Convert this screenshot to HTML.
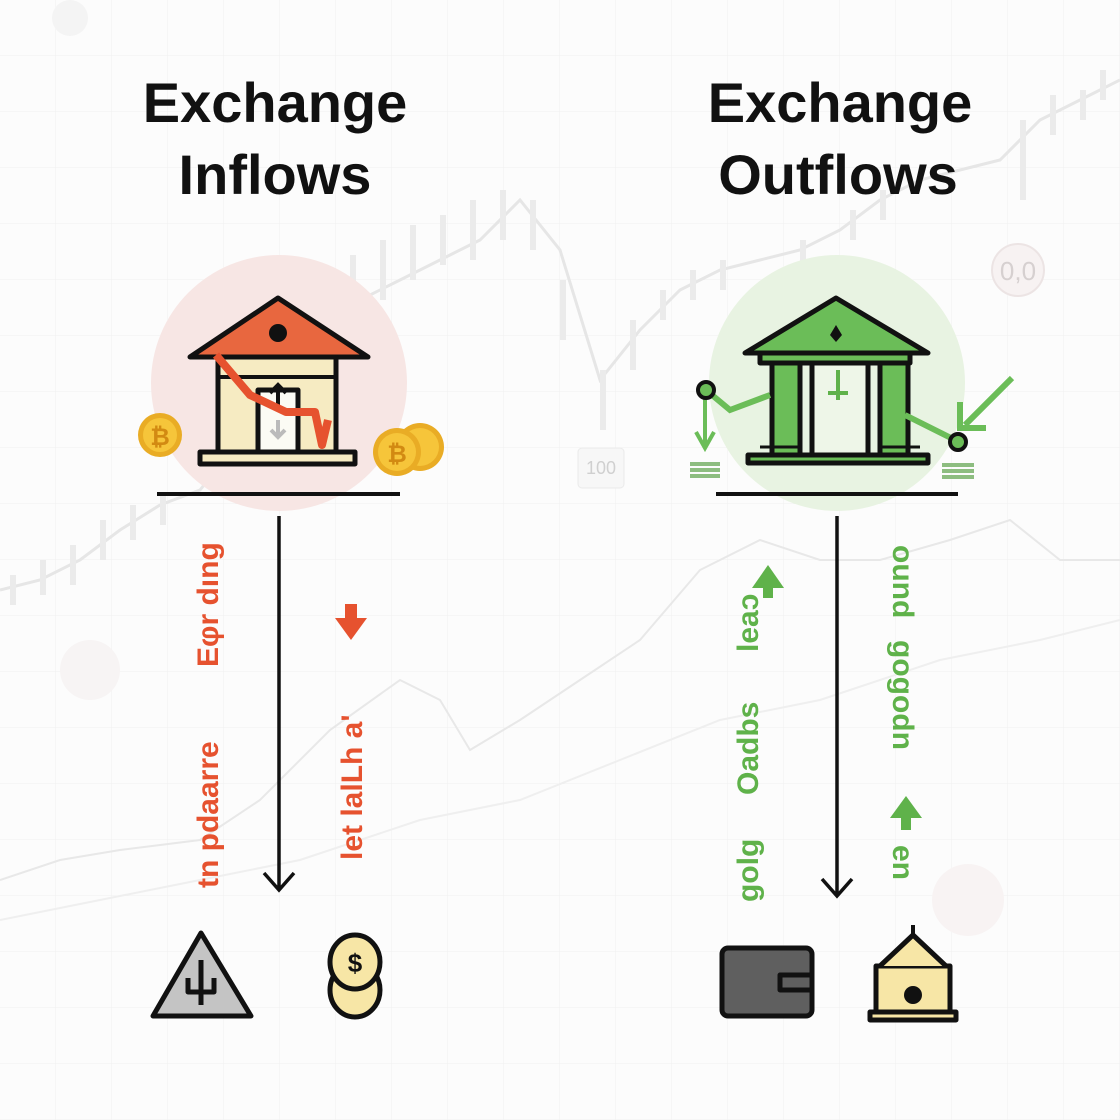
<!DOCTYPE html>
<html><head><meta charset="utf-8"><style>
html,body{margin:0;padding:0;background:#fff;}
svg{display:block;}
text{font-family:"Liberation Sans","DejaVu Sans",sans-serif;}
</style></head><body>
<svg width="1120" height="1120" viewBox="0 0 1120 1120" xmlns="http://www.w3.org/2000/svg">
<defs>
<pattern id="g" width="56" height="56" patternUnits="userSpaceOnUse">
<path d="M56 0V56M0 56H56" stroke="#f0f0f0" stroke-width="1" fill="none"/>
</pattern>
</defs>
<rect width="1120" height="1120" fill="#fcfcfc"/>
<rect width="1120" height="1120" fill="url(#g)"/>
<g stroke="#e6e6e6" stroke-width="3" fill="none">
<path d="M0 590 L40 580 80 560 120 530 160 505 200 490 240 440 280 400 320 340 360 300 400 280 440 260 480 240 520 200 560 250 600 380 640 330 680 290 720 270 760 260 800 250 840 230 880 200 920 180 960 170 1000 160 1040 120 1080 100 1120 80"/>
</g>
<g stroke="#e8e8e8" stroke-width="2" fill="none">
<path d="M0 880 L60 860 120 850 200 840 260 800 330 730 400 680 440 700 470 750 520 720 580 680 640 640 700 570 760 540 820 560 880 560 950 540 1010 520 1060 560 1120 560"/>
<path d="M0 920 L100 900 200 880 300 860 420 820 520 800 620 760 720 720 820 700 940 660 1040 640 1120 620" stroke="#efefef"/>
</g>
<g fill="#ebebeb">
<rect x="10" y="575" width="6" height="30"/><rect x="40" y="560" width="6" height="35"/><rect x="70" y="545" width="6" height="40"/><rect x="100" y="520" width="6" height="40"/><rect x="130" y="505" width="6" height="35"/><rect x="160" y="495" width="6" height="30"/>
<rect x="320" y="270" width="6" height="50"/><rect x="350" y="255" width="6" height="50"/><rect x="380" y="240" width="6" height="60"/><rect x="410" y="225" width="6" height="55"/><rect x="440" y="215" width="6" height="50"/><rect x="470" y="200" width="6" height="60"/><rect x="500" y="190" width="6" height="50"/><rect x="530" y="200" width="6" height="50"/><rect x="560" y="280" width="6" height="60"/><rect x="600" y="370" width="6" height="60"/><rect x="630" y="320" width="6" height="50"/>
<rect x="660" y="290" width="6" height="30"/><rect x="690" y="270" width="6" height="30"/><rect x="720" y="260" width="6" height="30"/><rect x="800" y="240" width="6" height="30"/><rect x="850" y="210" width="6" height="30"/><rect x="880" y="190" width="6" height="30"/>
<rect x="1020" y="120" width="6" height="80"/><rect x="1050" y="95" width="6" height="40"/><rect x="1080" y="90" width="6" height="30"/><rect x="1100" y="70" width="6" height="30"/>
</g>
<circle cx="1018" cy="270" r="26" fill="#f7f2f2" stroke="#ece4e4" stroke-width="2"/>
<text x="1018" y="280" font-size="26" fill="#d6d0d0" text-anchor="middle">0,0</text>
<rect x="578" y="448" width="46" height="40" rx="4" fill="#f7f7f7" stroke="#eaeaea"/>
<text x="601" y="474" font-size="18" fill="#d0d0d0" text-anchor="middle">100</text>
<circle cx="90" cy="670" r="30" fill="#f7f4f4"/>
<circle cx="968" cy="900" r="36" fill="#f8f3f3"/>
<circle cx="70" cy="18" r="18" fill="#f4f4f4"/>

<g font-weight="bold" font-size="56" fill="#111" text-anchor="middle">
<text x="275" y="122">Exchange</text>
<text x="275" y="194">Inflows</text>
<text x="840" y="122">Exchange</text>
<text x="838" y="194">Outflows</text>
</g>

<circle cx="279" cy="383" r="128" fill="#f7e6e4"/>
<g stroke="#111" stroke-width="5" stroke-linejoin="round">
<polygon points="190,357 278,298 368,357" fill="#e8673f"/>
<rect x="218" y="357" width="118" height="95" fill="#f6ebc2"/>
<rect x="258" y="390" width="40" height="62" fill="#fbfbf4"/>
<rect x="200" y="452" width="155" height="12" fill="#f6ebc2"/>
</g>
<circle cx="278" cy="333" r="9" fill="#111"/>
<line x1="218" y1="377" x2="336" y2="377" stroke="#111" stroke-width="4"/>
<path d="M278 405 V385 M270 393 L278 385 286 393" stroke="#111" stroke-width="4" fill="none"/>
<path d="M278 420 V435 M271 430 L278 437 285 430" stroke="#bbb" stroke-width="4" fill="none"/>
<path d="M216 355 L250 395 L286 412 L315 412 L322 445 L328 420" stroke="#e6522f" stroke-width="8" fill="none" stroke-linejoin="round"/>
<g>
<circle cx="160" cy="435" r="22" fill="#e9ac25"/><circle cx="160" cy="435" r="17" fill="#f6c53a"/>
<text x="160" y="445" font-size="24" font-weight="bold" fill="#d28a12" text-anchor="middle">₿</text>
<circle cx="420" cy="447" r="24" fill="#e9ac25"/><circle cx="420" cy="447" r="19" fill="#f6c53a"/>
<circle cx="397" cy="452" r="24" fill="#e9ac25"/><circle cx="397" cy="452" r="19" fill="#f6c53a"/>
<text x="397" y="462" font-size="24" font-weight="bold" fill="#d28a12" text-anchor="middle">₿</text>
</g>
<line x1="157" y1="494" x2="400" y2="494" stroke="#111" stroke-width="4"/>

<circle cx="837" cy="383" r="128" fill="#e8f3e2"/>
<g stroke="#111" stroke-width="5" stroke-linejoin="round">
<polygon points="745,353 836,298 928,353" fill="#6bbd58"/>
<rect x="760" y="353" width="150" height="10" fill="#6bbd58"/>
<rect x="772" y="363" width="28" height="92" fill="#6bbd58"/>
<rect x="880" y="363" width="28" height="92" fill="#6bbd58"/>
<rect x="812" y="363" width="56" height="92" fill="#eef6e8"/>
<rect x="748" y="455" width="180" height="8" fill="#6bbd58"/>
</g>
<path d="M760 447 H800 M880 447 H920" stroke="#111" stroke-width="3"/>
<polygon points="836,325 830,335 836,342 842,335" fill="#111"/>
<path d="M838 370 V400 M828 393 H848" stroke="#5fb24a" stroke-width="4"/>
<path d="M706 390 L730 410 L770 395 M905 415 L955 440 M1012 378 L965 425 M960 402 V428 H986" stroke="#6bbd58" stroke-width="6" fill="none"/>
<path d="M705 392 V445 M696 432 L705 448 714 432" stroke="#6bbd58" stroke-width="4" fill="none"/>
<circle cx="706" cy="390" r="8" fill="#6bbd58" stroke="#111" stroke-width="4"/>
<circle cx="958" cy="442" r="8" fill="#6bbd58" stroke="#111" stroke-width="4"/>
<g fill="#8dbd80"><rect x="690" y="462" width="30" height="4"/><rect x="690" y="468" width="30" height="4"/><rect x="690" y="474" width="30" height="4"/>
<rect x="942" y="463" width="32" height="4"/><rect x="942" y="469" width="32" height="4"/><rect x="942" y="475" width="32" height="4"/></g>
<line x1="716" y1="494" x2="958" y2="494" stroke="#111" stroke-width="4"/>

<path d="M279 516 V890 M264 873 L279 890 294 873" stroke="#111" stroke-width="3.5" fill="none"/>
<path d="M837 516 V896 M822 879 L837 896 852 879" stroke="#111" stroke-width="3.5" fill="none"/>

<g font-weight="bold" font-size="30" fill="#e6522f">
<text transform="translate(218,667) rotate(-90)">Eφr dıng</text>
<text transform="translate(218,888) rotate(-90)">tn pdaarre</text>
<text transform="translate(362,860) rotate(-90)">let lalLh a'</text>
</g>
<polygon points="335,618 367,618 351,640" fill="#e6522f"/>
<rect x="345" y="604" width="12" height="16" fill="#e6522f"/>

<g font-weight="bold" font-size="30" fill="#5fb24a">
<text transform="translate(758,652) rotate(-90)">leaɔ</text>
<text transform="translate(758,795) rotate(-90)">Oadbs</text>
<text transform="translate(758,902) rotate(-90)">golg</text>
<text transform="translate(893,545) rotate(90)">ound</text>
<text transform="translate(893,640) rotate(90)">gogodn</text>
<text transform="translate(893,845) rotate(90)">en</text>
</g>
<polygon points="752,588 768,565 784,588" fill="#5fb24a"/>
<rect x="763" y="586" width="10" height="12" fill="#5fb24a"/>
<polygon points="890,818 906,796 922,818" fill="#5fb24a"/>
<rect x="901" y="816" width="10" height="14" fill="#5fb24a"/>

<g stroke="#111" stroke-width="5" stroke-linejoin="round">
<polygon points="201,933 153,1016 251,1016" fill="#c4c4c4"/>
<path d="M201 960 V1005 M188 978 V992 H214 V978" fill="none"/>
<ellipse cx="355" cy="990" rx="25" ry="27" fill="#f7e6a6"/>
<ellipse cx="355" cy="962" rx="25" ry="27" fill="#f7e6a6"/>
<rect x="722" y="948" width="90" height="68" rx="6" fill="#5f5f5f"/>
<path d="M812 975 H780 V990 H812" fill="none"/>
<rect x="876" y="966" width="74" height="52" fill="#f7e6a6"/>
<path d="M880 966 L913 935 L946 966" fill="#f7e6a6"/>
<rect x="870" y="1012" width="86" height="8" fill="#f7e6a6"/>
</g>
<line x1="913" y1="935" x2="913" y2="925" stroke="#111" stroke-width="4"/>
<text x="355" y="972" font-size="26" font-weight="bold" text-anchor="middle" fill="#111">$</text>
<circle cx="913" cy="995" r="9" fill="#111"/>
</svg>
</body></html>
